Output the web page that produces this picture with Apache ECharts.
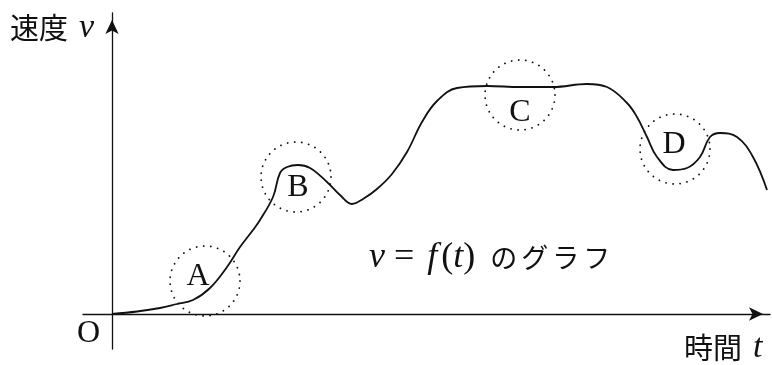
<!DOCTYPE html>
<html>
<head>
<meta charset="utf-8">
<script src="https://cdn.jsdelivr.net/npm/echarts@6/dist/echarts.min.js"></script>
<style>
  html, body { margin: 0; padding: 0; background: #fff; }
  #chart { width: 772px; height: 365px; }
</style>
</head>
<body>
<div id="chart"></div>
<script>
// Time t and speed v along the curve v = f(t)
const tValues = [0, 2.5, 4.8, 6.5, 8.1, 9.8, 11.5, 12.8, 14.1, 14.8, 16.1, 16.8, 17.5, 18.6, 19.8, 21.5, 22.8, 24.0, 25.1, 26.5, 28.0, 29.5, 31.0, 32.5, 34.5, 37.5, 40.8, 44.1, 47.5, 49.5, 51.5, 52.5, 53.5, 54.5, 56.1, 57.5, 58.8, 59.8, 60.8, 62.5, 64.1, 65.5];
const vValues = [0, 0.25, 0.6, 1.0, 1.4, 2.6, 4.7, 6.7, 8.4, 9.4, 11.7, 14.1, 14.7, 14.9, 14.6, 13.2, 11.9, 11.0, 11.5, 12.5, 14.0, 16.2, 19.2, 21.3, 22.6, 22.8, 22.7, 22.7, 23.0, 22.7, 21.1, 19.7, 17.7, 15.7, 14.4, 14.6, 15.7, 17.7, 18.1, 17.7, 15.7, 12.4];

// Highlighted spots on the curve (dotted circles) and their letters
const spotNames = ['A', 'B', 'C', 'D'];
const spotT = [9.3, 18.4, 40.8, 56.3];
const spotV = [3.3, 13.7, 21.9, 16.5];
const letterT = [8.6, 18.6, 40.8, 56.2];
const letterV = [3.7, 12.6, 20.1, 16.9];

// Axis extents
const tMin = -2.9, tMax = 65.8;
const vMin = -3.5, vMax = 30.1;

const curve = tValues.map((t, i) => [t, vValues[i]]);
const spots = spotNames.map((n, i) => ({ name: n, value: [spotT[i], spotV[i]] }));
const letters = spotNames.map((n, i) => ({ name: n, value: [letterT[i], letterV[i]] }));

const serif = '"Liberation Serif", "DejaVu Serif", serif';
const cjk = '"Noto Sans CJK JP", sans-serif';
const ink = '#111';

const axisLine = {
  show: true,
  onZero: true,
  symbol: ['none', 'arrow'],
  symbolSize: [10, 14],
  symbolOffset: [0, -7],
  lineStyle: { color: ink, width: 1.3 }
};

const mathStyles = {
  m: { fontFamily: serif, fontStyle: 'italic', fontSize: 34, fill: ink },
  n: { fontFamily: serif, fontStyle: 'italic', fontSize: 36, fill: ink },
  r: { fontFamily: serif, fontSize: 36, fill: ink },
  j: { fontFamily: cjk, fontSize: 27, fill: ink, width: 31 },
  k: { fontFamily: cjk, fontSize: 29, fill: ink },
  s: { width: 11 },
  a: { width: 9 },
  b: { width: 13 },
  c: { width: 4 },
  w: { width: 15 }
};

const chart = echarts.init(document.getElementById('chart'), null, { renderer: 'canvas' });
chart.setOption({
  animation: false,
  backgroundColor: '#fff',
  grid: { left: 83, right: 2, top: 13, bottom: 16, containLabel: false },
  xAxis: {
    type: 'value', min: tMin, max: tMax,
    axisLine: axisLine,
    axisTick: { show: false }, axisLabel: { show: false }, splitLine: { show: false }
  },
  yAxis: {
    type: 'value', min: vMin, max: vMax,
    axisLine: axisLine,
    axisTick: { show: false }, axisLabel: { show: false }, splitLine: { show: false }
  },
  series: [
    {
      type: 'line',
      data: curve,
      smooth: 0.4,
      showSymbol: false,
      silent: true,
      lineStyle: { color: ink, width: 1.8 },
      z: 3
    },
    {
      type: 'scatter',
      data: spots,
      symbol: 'circle',
      symbolSize: 70,
      silent: true,
      itemStyle: {
        opacity: 1,
        color: 'transparent',
        borderColor: '#111',
        borderWidth: 1.8,
        borderType: [0.1, 7],
        borderCap: 'round'
      },
      z: 4
    },
    {
      type: 'scatter',
      data: letters,
      symbolSize: 0,
      silent: true,
      itemStyle: { opacity: 1 },
      label: {
        show: true,
        position: 'inside',
        formatter: '{b}',
        fontFamily: serif,
        fontSize: 32,
        color: ink
      },
      z: 5
    }
  ],
  graphic: [
    {
      type: 'text', left: 10, top: 11,
      style: { text: '{k|速度}{s|}{m|v}', rich: mathStyles }
    },
    {
      type: 'text', left: 684, top: 331,
      style: { text: '{k|時間}{s|}{m|t}', rich: mathStyles }
    },
    {
      type: 'text', left: 77, top: 318,
      style: { text: 'O', fontFamily: serif, fontSize: 32, fill: ink }
    },
    {
      type: 'text', left: 369, top: 240,
      style: {
        text: '{n|v}{a|}{r|=}{b|}{n|f}{c|}{r|(}{n|t}{r|)}{w|}{j|の}{j|グ}{j|ラ}{j|フ}',
        rich: mathStyles
      }
    }
  ]
});
</script>
</body>
</html>
